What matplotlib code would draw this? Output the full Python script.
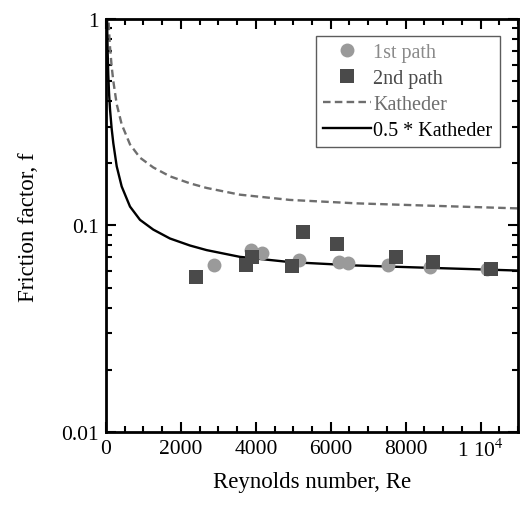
"""
Friction factor vs Reynolds number for the two measurement paths,
compared against the Katheder correlation and half of it.
"""

import matplotlib
matplotlib.use("Agg")
import matplotlib.pyplot as plt
from matplotlib.ticker import FixedLocator, MultipleLocator, FuncFormatter, LogLocator, NullFormatter

plt.rcParams["font.family"] = ["Liberation Serif", "DejaVu Serif"]
plt.rcParams["mathtext.fontset"] = "stix"

# ---------------------------------------------------------------------------
# Data
# ---------------------------------------------------------------------------
re_path1 = [2880, 3858, 4169, 5147, 6213, 6462, 7528, 8658, 10168]
f_path1 = [0.0642, 0.0765, 0.0732, 0.0678, 0.0667, 0.0659, 0.0647, 0.0630, 0.0618]

re_path2 = [2392, 3725, 3885, 4978, 5262, 6168, 7751, 8729, 10285]
f_path2 = [0.0564, 0.0642, 0.0705, 0.0635, 0.0932, 0.0818, 0.0705, 0.0667, 0.0618]

re_katheder = [15, 30, 45, 60, 80, 107, 150, 195, 285, 418, 640, 907, 1262,
               1707, 2240, 2685, 3573, 4907, 6685, 8462, 11000]
f_katheder = [3.4, 1.86, 1.35, 1.08, 0.88, 0.729, 0.59, 0.50, 0.387, 0.309,
              0.247, 0.213, 0.191, 0.173, 0.160, 0.152, 0.141, 0.133, 0.128,
              0.125, 0.121]
f_half_katheder = [0.5 * f for f in f_katheder]

x_ticks = [0, 2000, 4000, 6000, 8000, 10000]
x_tick_labels = ["0", "2000", "4000", "6000", "8000", "1 10$^{4}$"]

# ---------------------------------------------------------------------------
# Figure
# ---------------------------------------------------------------------------
fig = plt.figure(figsize=(5.21, 5.06), dpi=100)
ax = fig.add_axes([0.2035, 0.1443, 0.7907, 0.8162])

ax.plot(re_katheder, f_katheder, linestyle=(0, (3.2, 1.8)), color="#6e6e6e",
        linewidth=1.7, label="Katheder", zorder=2)
ax.plot(re_katheder, f_half_katheder, color="black", linewidth=1.7,
        label="0.5 * Katheder", zorder=2)
ax.plot(re_path1, f_path1, "o", color="#9a9a9a", markersize=10,
        markeredgewidth=0, label="1st path", zorder=3)
ax.plot(re_path2, f_path2, "s", color="#4a4a4a", markersize=10,
        markeredgewidth=0, label="2nd path", zorder=4)

ax.set_yscale("log")
ax.set_xlim(0, 11000)
ax.set_ylim(0.01, 1)

tick_text = dict(zip(x_ticks, x_tick_labels))
ax.xaxis.set_major_locator(FixedLocator(x_ticks))
ax.xaxis.set_major_formatter(FuncFormatter(lambda v, p: tick_text.get(int(round(v)), "")))
ax.xaxis.set_minor_locator(MultipleLocator(500))
ax.yaxis.set_major_locator(FixedLocator([0.01, 0.1, 1]))
ax.yaxis.set_major_formatter(FuncFormatter(lambda v, p: f"{v:g}"))
ax.yaxis.set_minor_locator(LogLocator(base=10, subs=range(2, 10)))
ax.yaxis.set_minor_formatter(NullFormatter())

ax.tick_params(which="both", direction="in", top=True, right=True,
               width=1.5, labelsize=15.5, colors="black")
ax.tick_params(which="major", length=7, pad=5)
ax.tick_params(which="minor", length=4)
for spine in ax.spines.values():
    spine.set_linewidth(2)

ax.set_xlabel("Reynolds number, Re", fontsize=16.5)
ax.xaxis.set_label_coords(0.5, -0.121)
ax.xaxis.label.set_va("center")
ax.set_ylabel("Friction factor, f", fontsize=16.5)
ax.yaxis.set_label_coords(-0.189, 0.499)
ax.yaxis.label.set_va("center")

handles, labels = ax.get_legend_handles_labels()
order = [2, 3, 0, 1]
leg = ax.legend([handles[i] for i in order], [labels[i] for i in order],
                loc="upper right", bbox_to_anchor=(0.965, 0.968), fontsize=14.5,
                frameon=True, fancybox=False, edgecolor="#333333",
                handlelength=2.4, handletextpad=0.1, borderpad=0.35,
                labelspacing=0.33, borderaxespad=0.2)
leg.get_frame().set_linewidth(1.0)
for text, color in zip(leg.get_texts(), ["#8a8a8a", "#4a4a4a", "#6e6e6e", "black"]):
    text.set_color(color)

fig.savefig("out.png", dpi=100)
